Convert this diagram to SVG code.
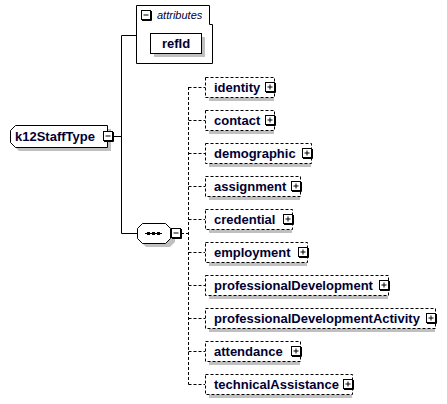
<svg xmlns="http://www.w3.org/2000/svg" width="447" height="404" viewBox="0 0 447 404">
<style>
.lbl{font-family:"Liberation Sans",Arial,sans-serif;font-weight:bold;font-size:13px;fill:#000033}
.box{fill:#fff;stroke:#000;stroke-width:1}
.dbox{fill:#fff;stroke:#000;stroke-width:1;stroke-dasharray:3,2}
.sh{fill:#c0c0c0;stroke:none}
.ln{stroke:#000;stroke-width:1;fill:none}
.dl{stroke:#000;stroke-width:1;fill:none;stroke-dasharray:3,2}
.btn{fill:#fff;stroke:#000;stroke-width:1}
</style>
<defs>
<g id="plus">
<rect class="btn" x="0.5" y="0.5" width="9" height="9"/>
<path d="M10.5,1 V10.5 H1" class="ln"/>
<path d="M2.5,5 H7.5 M5,2.5 V7.5" class="ln"/>
</g>
<g id="minus">
<rect class="btn" x="0.5" y="0.5" width="9" height="9"/>
<path d="M10.5,1 V10.5 H1" class="ln"/>
<path d="M2.5,5 H7.5" class="ln"/>
</g>
</defs>
<g id="connectors">
<path class="ln" d="M113,136.5 H121.5 M121.5,35.5 V233.5 M121.5,35.5 H136 M121.5,233.5 H137"/>
<path class="dl" d="M181,233.5 H188.5 M188.5,87 V384.5"/>
<path class="dl" d="M188.5,87.5 H205 M188.5,120.5 H205 M188.5,153.5 H205 M188.5,186.5 H205 M188.5,219.5 H205 M188.5,252.5 H205 M188.5,285.5 H205 M188.5,318.5 H205 M188.5,351.5 H205 M188.5,384.5 H205"/>
</g>
<g id="k12StaffType">
<path class="sh" d="M19,129 H111 V151 H19 L14,146 V134 Z"/>
<path class="box" d="M15.5,125.5 H107.5 V147.5 H15.5 L10.5,142.5 V130.5 Z"/>
<text class="lbl" x="15" y="141">k12StaffType</text>
<use href="#minus" x="103" y="131"/>
</g>
<g id="attributes">
<path class="box" d="M136.5,5.5 H209.5 V24.5 H212.5 V63.5 H136.5 Z"/>
<use href="#minus" x="141" y="10"/>
<text x="157" y="19" style="font-family:'Liberation Sans',Arial,sans-serif;font-style:italic;font-size:11px;fill:#000033">attributes</text>
</g>
<g id="refId">
<rect class="sh" x="154" y="37" width="51" height="20"/>
<rect class="box" x="150.5" y="33.5" width="51" height="20"/>
<text class="lbl" x="176" y="48" text-anchor="middle">refId</text>
</g>
<g id="sequence">
<path class="sh" d="M146,227 H170 L175,232 V242 L170,247 H146 L141,242 V232 Z"/>
<path class="box" d="M142.5,223.5 H165.5 L170.5,228.5 V238.5 L165.5,243.5 H142.5 L137.5,238.5 V228.5 Z"/>
<path class="ln" d="M145,233.5 H162"/>
<rect x="147" y="232" width="3" height="3" fill="#000"/>
<rect x="152" y="232" width="3" height="3" fill="#000"/>
<rect x="157" y="232" width="3" height="3" fill="#000"/>
<use href="#minus" x="171" y="228"/>
</g>
<g id="identity">
<rect class="sh" x="209" y="81" width="65" height="20"/>
<rect class="dbox" x="205.5" y="77.5" width="69" height="20"/>
<text class="lbl" x="214" y="92">identity</text>
<use href="#plus" x="265" y="82"/>
</g>
<g id="contact">
<rect class="sh" x="209" y="114" width="65" height="20"/>
<rect class="dbox" x="205.5" y="110.5" width="69" height="20"/>
<text class="lbl" x="214" y="125">contact</text>
<use href="#plus" x="265" y="115"/>
</g>
<g id="demographic">
<rect class="sh" x="209" y="147" width="102" height="20"/>
<rect class="dbox" x="205.5" y="143.5" width="106" height="20"/>
<text class="lbl" x="214" y="158">demographic</text>
<use href="#plus" x="302" y="148"/>
</g>
<g id="assignment">
<rect class="sh" x="209" y="180" width="91" height="20"/>
<rect class="dbox" x="205.5" y="176.5" width="95" height="20"/>
<text class="lbl" x="214" y="191">assignment</text>
<use href="#plus" x="291" y="181"/>
</g>
<g id="credential">
<rect class="sh" x="209" y="213" width="83" height="20"/>
<rect class="dbox" x="205.5" y="209.5" width="87" height="20"/>
<text class="lbl" x="214" y="224">credential</text>
<use href="#plus" x="283" y="214"/>
</g>
<g id="employment">
<rect class="sh" x="209" y="246" width="98" height="20"/>
<rect class="dbox" x="205.5" y="242.5" width="102" height="20"/>
<text class="lbl" x="214" y="257">employment</text>
<use href="#plus" x="298" y="247"/>
</g>
<g id="professionalDevelopment">
<rect class="sh" x="209" y="279" width="179" height="20"/>
<rect class="dbox" x="205.5" y="275.5" width="183" height="20"/>
<text class="lbl" x="214" y="290">professionalDevelopment</text>
<use href="#plus" x="379" y="280"/>
</g>
<g id="professionalDevelopmentActivity">
<rect class="sh" x="209" y="312" width="226" height="20"/>
<rect class="dbox" x="205.5" y="308.5" width="230" height="20"/>
<text class="lbl" x="214" y="323">professionalDevelopmentActivity</text>
<use href="#plus" x="426" y="313"/>
</g>
<g id="attendance">
<rect class="sh" x="209" y="345" width="91" height="20"/>
<rect class="dbox" x="205.5" y="341.5" width="95" height="20"/>
<text class="lbl" x="214" y="356">attendance</text>
<use href="#plus" x="291" y="346"/>
</g>
<g id="technicalAssistance">
<rect class="sh" x="209" y="378" width="143" height="20"/>
<rect class="dbox" x="205.5" y="374.5" width="147" height="20"/>
<text class="lbl" x="214" y="389">technicalAssistance</text>
<use href="#plus" x="343" y="379"/>
</g>
</svg>
